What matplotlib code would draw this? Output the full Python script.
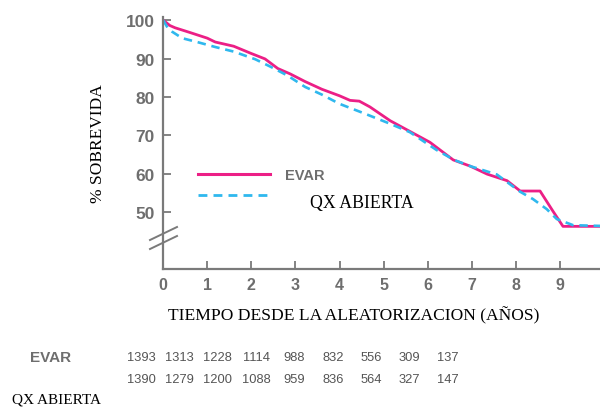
import matplotlib.pyplot as plt
from matplotlib.lines import Line2D

# survival curves (years, % survival)
evar_t = [0, 0.15, 0.27, 0.6, 1.0, 1.18, 1.6, 2.0, 2.31, 2.6, 2.88, 3.22, 3.6, 4.0, 4.24, 4.45, 4.69, 5.15, 5.6, 6.05, 6.58, 6.96, 7.35, 7.8, 8.1, 8.55, 8.84, 9.07, 9.95]
evar_s = [100, 98.6, 98.0, 96.8, 95.3, 94.3, 93.2, 91.3, 89.9, 87.4, 86.0, 84.0, 82.0, 80.3, 79.1, 78.9, 77.4, 73.8, 71.0, 68.2, 63.6, 62.0, 59.9, 58.2, 55.5, 55.5, 50.3, 46.3, 46.3]

qx_t = [0, 0.1, 0.2, 0.43, 0.8, 1.18, 1.6, 2.09, 2.5, 2.83, 3.22, 3.6, 4.0, 4.54, 5.15, 5.6, 6.2, 6.6, 6.96, 7.57, 8.1, 8.39, 8.7, 8.93, 9.3, 9.95]
qx_s = [100, 98.0, 97.0, 95.3, 94.2, 93.0, 91.8, 89.8, 87.5, 85.5, 82.6, 80.6, 78.2, 75.8, 73.0, 70.8, 66.2, 63.6, 62.0, 59.8, 55.3, 53.4, 50.8, 48.2, 46.6, 46.4]

years = [0, 1, 2, 3, 4, 5, 6, 7, 8, 9]
yticks = [50, 60, 70, 80, 90, 100]

at_risk_evar = [1393, 1313, 1228, 1114, 988, 832, 556, 309, 137]
at_risk_qx = [1390, 1279, 1200, 1088, 959, 836, 564, 327, 147]

pink = "#ec1f86"
blue = "#2fb8ee"
grey = "#6e6e6e"
serif = "Liberation Serif"
sans = "Liberation Sans"

fig = plt.figure(figsize=(6, 4.1), dpi=100)
ax = fig.add_axes([0.272, 0.3415, 0.728, 0.6145])

ax.plot(evar_t, evar_s, color=pink, lw=2.0, solid_capstyle="butt")
ax.plot(qx_t, qx_s, color=blue, lw=1.9, ls=(0, (3.2, 2.2)))

ax.set_xlim(0, 9.91)
ax.set_ylim(35.2, 100.8)
ax.set_xticks(years)
ax.set_yticks(yticks)

for s in ["top", "right"]:
    ax.spines[s].set_visible(False)
for s in ["left", "bottom"]:
    ax.spines[s].set_color("#7a7a7a")
    ax.spines[s].set_linewidth(1.6)

ax.tick_params(direction="in", length=6, width=1.3, color="#7a7a7a",
               labelcolor=grey, pad=6)
ax.tick_params(axis="y", labelsize=12.5)
ax.tick_params(axis="x", labelsize=11.5)
for lab in ax.get_xticklabels() + ax.get_yticklabels():
    lab.set_fontfamily(sans)
    lab.set_fontweight("bold")
# hide the tick mark at x=0 (sits on the axis)
ax.xaxis.get_major_ticks()[0].tick1line.set_visible(False)

ax.set_ylabel("% SOBREVIDA", fontfamily=serif, fontsize=12.5, labelpad=14)
ax.set_xlabel("TIEMPO DESDE LA ALEATORIZACION (AÑOS)", fontfamily=serif,
              fontsize=12.6, labelpad=10)
ax.xaxis.label.set_x(0.435)

# axis break marks
for dy in (0, 9):
    fig.add_artist(Line2D([150 / 600, 177 / 600],
                          [1 - (250 - dy) / 410, 1 - (237 - dy) / 410],
                          color="#7a7a7a", lw=1.4))

# legend drawn by hand
fig.add_artist(Line2D([198 / 600, 270 / 600], [1 - 175 / 410] * 2, color=pink, lw=2.2))
fig.add_artist(Line2D([198 / 600, 270 / 600], [1 - 196 / 410] * 2, color=blue, lw=2.0,
                      ls=(0, (3.2, 2.2))))
fig.text(285 / 600, 1 - 176 / 410, "EVAR", fontfamily=sans, fontweight="bold",
         color=grey, fontsize=10.5, va="center")
fig.text(310 / 600, 1 - 204 / 410, "QX ABIERTA", fontfamily=serif,
         color="black", fontsize=12.8, va="center")

# numbers at risk
col_x = [141 + 38.4 * i for i in range(len(at_risk_evar))]
fig.text(30 / 600, 1 - 358 / 410, "EVAR", fontfamily=sans, fontweight="bold",
         color=grey, fontsize=11, va="center")
fig.text(12 / 600, 1 - 400 / 410, "QX ABIERTA", fontfamily=serif,
         color="black", fontsize=11, va="center")
for x, a, b in zip(col_x, at_risk_evar, at_risk_qx):
    fig.text(x / 600, 1 - 358 / 410, str(a), fontfamily=sans, color="#555555",
             fontsize=9.3, ha="center", va="center")
    fig.text(x / 600, 1 - 380 / 410, str(b), fontfamily=sans, color="#555555",
             fontsize=9.3, ha="center", va="center")

fig.savefig("out.png", dpi=100)
